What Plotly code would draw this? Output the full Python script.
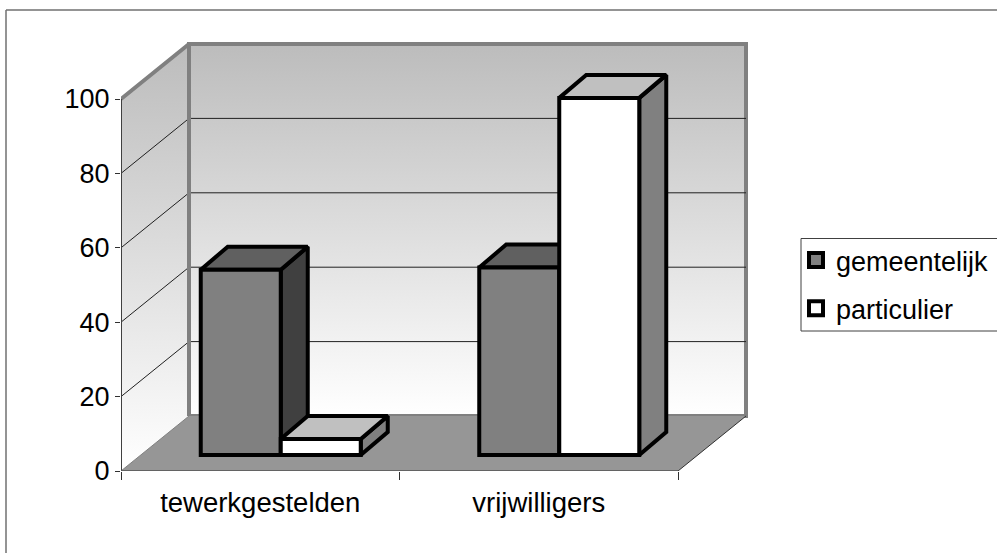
import plotly.graph_objects as go

# Values
categories = ["tewerkgestelden", "vrijwilligers"]
gemeentelijk = [49.8, 50.4]
particulier = [4.3, 96]
y_ticks = [0, 20, 40, 60, 80, 100]

# Fake 3D set-up, everything in axis units
PX_X = 278.5  # pixels per category
PX_Y = 3.72   # pixels per value unit
WALL_DX, WALL_DY = 68 / PX_X, 55 / PX_Y
BAR_DX, BAR_DY = 27 / PX_X, 23 / PX_Y
BAR_BASE = 16 / PX_Y
BAR_W = 80 / PX_X
GROUP_SHIFT = 20.5 / PX_X

WALL_GRAD = dict(type="vertical", colorscale=[[0, "#ffffff"], [1, "#bcbcbc"]])
EDGE = "#808080"
FONT = "Liberation Sans"

fig = go.Figure()


def poly(xs, ys, fill=None, line="black", width=4, z=0, gradient=None, clip=False):
    kw = dict(fillgradient=gradient) if gradient else dict(fillcolor=fill)
    fig.add_trace(go.Scatter(
        x=xs, y=ys, mode="lines", fill="toself" if (fill or gradient) else "none",
        line=dict(color=line, width=width), showlegend=False, hoverinfo="skip",
        zorder=z, cliponaxis=clip, **kw))


top = max(y_ticks)
n = len(categories)

# left wall, back wall, floor
poly([0, WALL_DX, WALL_DX, 0, 0], [0, WALL_DY, top + WALL_DY, top, 0],
     line="rgba(0,0,0,0)", width=0, gradient=WALL_GRAD)
poly([WALL_DX, n + WALL_DX, n + WALL_DX, WALL_DX, WALL_DX],
     [WALL_DY, WALL_DY, top + WALL_DY, top + WALL_DY, WALL_DY],
     line=EDGE, width=4, gradient=WALL_GRAD)
poly([0, n, n + WALL_DX, WALL_DX, 0], [0, 0, WALL_DY, WALL_DY, 0],
     fill="#969696", line="rgba(0,0,0,0)", width=0)

# gridlines run along the left wall then across the back wall
for v in y_ticks[1:-1]:
    poly([0, WALL_DX, n + WALL_DX], [v, v + WALL_DY, v + WALL_DY], line="#202020", width=1)

# wall edges and axis lines
poly([0, WALL_DX, WALL_DX], [top, top + WALL_DY, WALL_DY], line=EDGE, width=4, clip=True)
poly([0, 0], [0, top], line="#404040", width=2, clip=True)
poly([0, WALL_DX], [0, WALL_DY], line="#808080", width=1, clip=True)
poly([0, n, n + WALL_DX], [0, 0, WALL_DY], line="#303030", width=1, clip=True)


def series(name, values, side_sign, front, roof, side, z):
    xs = [i + 0.5 + GROUP_SHIFT + side_sign * BAR_W / 2 for i in range(n)]
    for x, v in zip(xs, values):
        l, r = x - BAR_W / 2, x + BAR_W / 2
        b, t = BAR_BASE, BAR_BASE + v
        poly([r, r + BAR_DX, r + BAR_DX, r, r], [b, b + BAR_DY, t + BAR_DY, t, b], fill=side, z=z)
        poly([l, r, r + BAR_DX, l + BAR_DX, l], [t, t, t + BAR_DY, t + BAR_DY, t], fill=roof, z=z)
    fig.add_trace(go.Bar(
        x=xs, y=values, base=[BAR_BASE] * n, width=BAR_W, name=name, showlegend=False,
        marker=dict(color=front, line=dict(color="black", width=4)),
        zorder=z + 1, hoverinfo="skip"))
    # legend key only: a square marker can carry the heavy outline
    fig.add_trace(go.Scatter(
        x=[None], y=[None], mode="markers", name=name, legendgroup=name,
        marker=dict(symbol="square", size=14, color=front, line=dict(color="black", width=4))))


series("gemeentelijk", gemeentelijk, -1, "#808080", "#606060", "#404040", 1)
series("particulier", particulier, 1, "#ffffff", "#c0c0c0", "#808080", 3)

fig.update_layout(
    width=997, height=553, autosize=False,
    margin=dict(l=121, r=237, t=30, b=82, pad=0, autoexpand=False),
    paper_bgcolor="white", plot_bgcolor="rgba(0,0,0,0)",
    font=dict(family=FONT, size=27, color="black"),
    showlegend=True, barmode="overlay",
    legend=dict(x=(796 - 121) / 639, y=(471 - 236) / 441, xanchor="left", yanchor="top",
                borderwidth=0, bgcolor="rgba(0,0,0,0)",
                traceorder="grouped", tracegroupgap=10,
                font=dict(family=FONT, size=27)),
    xaxis=dict(range=[0, 639 / PX_X], tickvals=[i + 0.5 for i in range(n)], ticktext=categories,
               ticks="", showgrid=False, zeroline=False, showline=False, ticklabelstandoff=12,
               tickfont=dict(size=27.5),
               minor=dict(tickvals=list(range(n + 1)), ticks="outside", ticklen=8, tickcolor="#303030",
                          tickwidth=1, showgrid=False)),
    yaxis=dict(range=[0, 441 / PX_Y], tickvals=y_ticks, ticks="outside", ticklen=5,
               tickcolor="#303030", tickwidth=1, showgrid=False, zeroline=False, showline=False),
    shapes=[
        # chart area border: top and left only are inside the picture
        dict(type="line", xref="paper", yref="paper", x0=(6 - 121) / 639, x1=(997 - 121) / 639,
             y0=(471 - 10) / 441, y1=(471 - 10) / 441, line=dict(color="#707070", width=1.5)),
        dict(type="line", xref="paper", yref="paper", x0=(6 - 121) / 639, x1=(6 - 121) / 639,
             y0=(471 - 10) / 441, y1=(471 - 553) / 441, line=dict(color="#707070", width=1.5)),
        # legend box runs off the right edge
        dict(type="rect", xref="paper", yref="paper", x0=(801 - 121) / 639, x1=(1010 - 121) / 639,
             y0=(471 - 238.5) / 441, y1=(471 - 331) / 441, line=dict(color="#404040", width=1)),
    ],
)

fig.write_html("out.html", config=dict(displayModeBar=False),
               post_script="document.body.style.margin='0';")
